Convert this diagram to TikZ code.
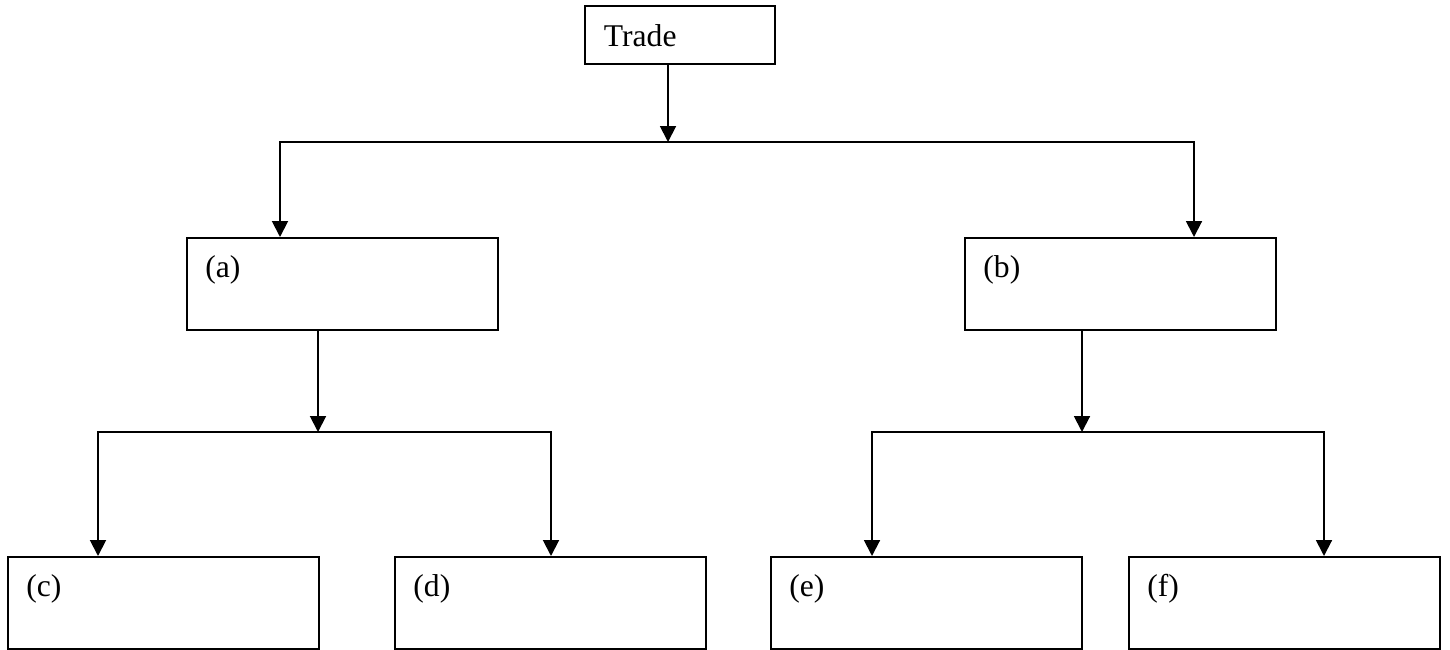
\documentclass[tikz,border=0pt]{standalone}
\usepackage{fontspec}
\setmainfont{Liberation Serif}
\usepackage{tikz}
\usetikzlibrary{arrows.meta,calc}

\begin{document}
\begin{tikzpicture}[x=0.02cm,y=-0.02cm,>={Triangle[length=9pt,width=9pt]},font=\fontsize{18}{21}\selectfont]

\tikzset{
bx/.style={
    draw,
    line width=1.1pt,
    anchor=north west,
    inner xsep=10.5pt,
    inner ysep=0pt,
    text width=155.9pt,
    text height=22.7pt,
    text depth=29.7pt,
    align=left
},
tb/.style={
    bx,
    inner xsep=10.8pt,
    text width=86.7pt,
    text height=23pt,
    text depth=9.8pt
},
ar/.style={->,line width=1.1pt}
}

\useasboundingbox (0,0) rectangle (1450,649);

\node[tb] (trade) at (584,5) {Trade};

\node[bx] (a) at (186,237) {(a)};
\node[bx] (b) at (964,237) {(b)};

\node[bx] (c) at (7,556) {(c)};
\node[bx] (d) at (394,556) {(d)};
\node[bx] (e) at (770,556) {(e)};
\node[bx] (f) at (1128,556) {(f)};

% branch points
\coordinate (j1) at (668,142);
\coordinate (j2) at (318,432);
\coordinate (j3) at (1082,432);

\draw[ar] (trade.south -| j1) -- (j1);
\draw[ar] (j1) -| ($(a.north west)+(94,0)$);
\draw[ar] (j1) -| ($(b.north west)+(230,0)$);

\draw[ar] (a.south -| j2) -- (j2);
\draw[ar] (j2) -| ($(c.north west)+(91,0)$);
\draw[ar] (j2) -| ($(d.north west)+(157,0)$);

\draw[ar] (b.south -| j3) -- (j3);
\draw[ar] (j3) -| ($(e.north west)+(102,0)$);
\draw[ar] (j3) -| ($(f.north west)+(196,0)$);

\end{tikzpicture}
\end{document}
